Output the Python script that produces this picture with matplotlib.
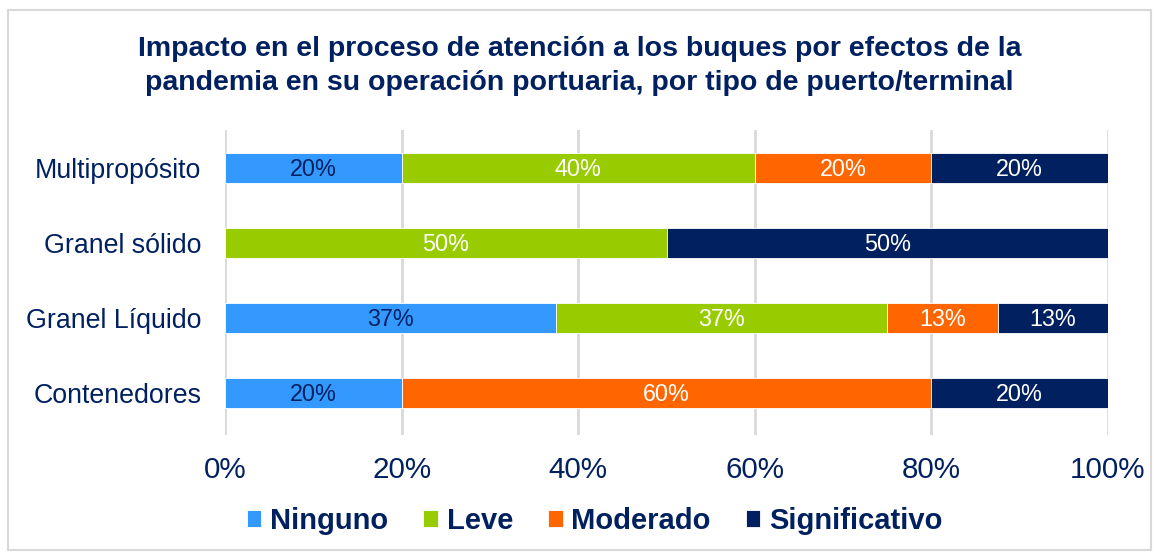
import matplotlib
matplotlib.use("Agg")
import matplotlib.pyplot as plt
from matplotlib.patches import Rectangle

plt.rcParams["font.family"] = ["Liberation Sans", "DejaVu Sans"]

# data
categories = ["Contenedores", "Granel Líquido", "Granel sólido", "Multipropósito"]
series_names = ["Ninguno", "Leve", "Moderado", "Significativo"]
ninguno = [20, 37.5, 0, 20]
leve = [0, 37.5, 50, 40]
moderado = [60, 12.5, 0, 20]
significativo = [20, 12.5, 50, 20]
labels_ninguno = ["20%", "37%", "", "20%"]
labels_leve = ["", "37%", "50%", "40%"]
labels_moderado = ["60%", "13%", "", "20%"]
labels_significativo = ["20%", "13%", "50%", "20%"]
xticks = [0, 20, 40, 60, 80, 100]
title = ("Impacto en el proceso de atención a los buques por efectos de la\n"
         "pandemia en su operación portuaria, por tipo de puerto/terminal")

colors = ["#3399FF", "#99CC00", "#FF6600", "#002060"]
text_colors = ["#002060", "white", "white", "white"]
navy = "#002060"

fig = plt.figure(figsize=(11.59, 5.54), dpi=100)
ax = fig.add_axes([225 / 1159, 1 - 435 / 554, (1108 - 225) / 1159, 305 / 554])

series = [ninguno, leve, moderado, significativo]
labels = [labels_ninguno, labels_leve, labels_moderado, labels_significativo]
y = list(range(len(categories)))
left = [0] * len(categories)
for vals, labs, name, c, tc in zip(series, labels, series_names, colors, text_colors):
    bars = ax.barh(y, vals, left=left, height=0.4, color=c, label=name,
                   edgecolor="white", linewidth=0.6, zorder=3)
    for b, lab in zip(bars, labs):
        if lab:
            ax.text(b.get_x() + b.get_width() / 2, b.get_y() + b.get_height() / 2 - 0.02,
                    lab, ha="center", va="center", color=tc, fontsize=16.8, zorder=4)
    left = [l + v for l, v in zip(left, vals)]

ax.set_xlim(0, 100)
ax.set_ylim(-0.56, 3.5)
ax.set_xticks(xticks)
ax.set_xticklabels([f"{t}%" for t in xticks], fontsize=21.3, color=navy)
ax.set_yticks(y)
ax.set_yticklabels(categories, fontsize=19.3, color=navy)
ax.tick_params(axis="both", length=0)
ax.tick_params(axis="x", pad=15)
ax.tick_params(axis="y", pad=17)
ax.grid(axis="x", color="#D9D9D9", linewidth=2, zorder=0)
for s in ax.spines.values():
    s.set_visible(False)

fig.text(0.5, 1 - 66 / 554, title, ha="center", va="center", fontsize=20.5,
         fontweight="bold", color=navy, linespacing=1.36)

leg = fig.legend(loc="center", bbox_to_anchor=(0.513, 1 - 521 / 554), ncol=4,
                 frameon=False, handlelength=0.5, handleheight=0.5,
                 handletextpad=0.3, columnspacing=1.2,
                 prop={"size": 21, "weight": "bold"})
for t in leg.get_texts():
    t.set_color(navy)

fig.patches.append(Rectangle((8 / 1159, 1 - 550 / 554), 1143 / 1159, 540 / 554,
                             transform=fig.transFigure, fill=False,
                             edgecolor="#D9D9D9", linewidth=1.5))

fig.savefig("out.png", dpi=100)
